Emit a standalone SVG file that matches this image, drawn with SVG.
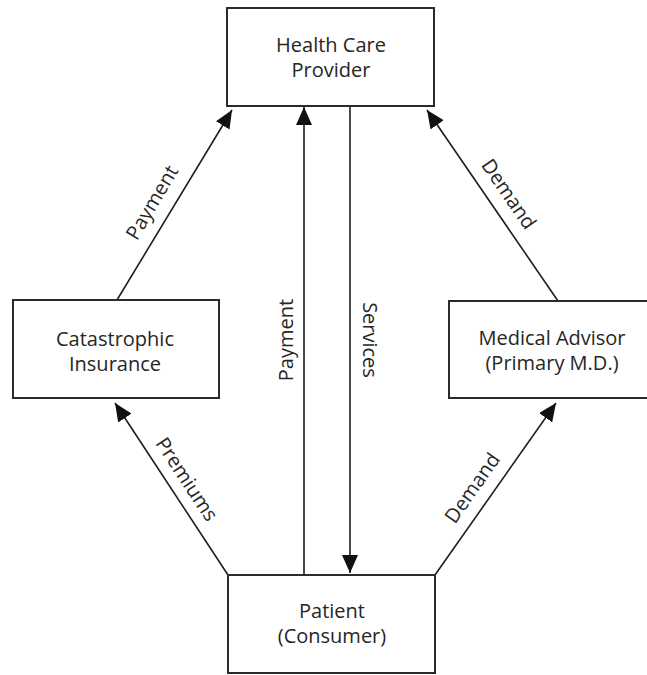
<svg xmlns="http://www.w3.org/2000/svg" width="647" height="675" viewBox="0 0 647 675">
  <style>
    .box { fill: #ffffff; stroke: #2b2b2b; stroke-width: 2; }
    .lbl { font-family: "Open Sans", "Noto Sans", "Liberation Sans", sans-serif; font-size: 20px; fill: #262626; text-anchor: middle; }
    .edge { stroke: #1e1e1e; stroke-width: 1.6; fill: none; marker-end: url(#head); }
  </style>
  <defs>
    <marker id="head" markerUnits="userSpaceOnUse" markerWidth="19" markerHeight="16" refX="18" refY="8" orient="auto">
      <path d="M0,0 L18,8 L0,16 Z" fill="#111111"/>
    </marker>
  </defs>
  <rect width="647" height="675" fill="#ffffff"/>

  <!-- connectors -->
  <g id="connectors">
    <line class="edge" x1="117" y1="300" x2="232" y2="110"/>
    <line class="edge" x1="304" y1="575" x2="304" y2="107"/>
    <line class="edge" x1="350" y1="106" x2="350" y2="573"/>
    <line class="edge" x1="558" y1="301" x2="427" y2="110"/>
    <line class="edge" x1="228" y1="575" x2="115" y2="403"/>
    <line class="edge" x1="435" y1="575" x2="556" y2="403"/>

    <text class="lbl" transform="translate(158,206) rotate(-59.3)">Payment</text>
    <text class="lbl" transform="translate(293,340) rotate(-90)">Payment</text>
    <text class="lbl" transform="translate(363,340) rotate(90)">Services</text>
    <text class="lbl" transform="translate(503,198) rotate(55.6)">Demand</text>
    <text class="lbl" transform="translate(181,483) rotate(56.7)">Premiums</text>
    <text class="lbl" transform="translate(478,492) rotate(-54.9)">Demand</text>
  </g>

  <!-- nodes -->
  <g id="provider">
    <rect class="box" x="227" y="8" width="207" height="98"/>
    <text class="lbl" x="331" y="52">Health Care</text>
    <text class="lbl" x="331" y="77">Provider</text>
  </g>
  <g id="insurance">
    <rect class="box" x="13" y="300" width="206" height="98"/>
    <text class="lbl" x="115" y="346">Catastrophic</text>
    <text class="lbl" x="115" y="371">Insurance</text>
  </g>
  <g id="advisor">
    <rect class="box" x="449" y="301" width="206" height="97"/>
    <text class="lbl" x="552" y="345">Medical Advisor</text>
    <text class="lbl" x="552" y="370">(Primary M.D.)</text>
  </g>
  <g id="patient">
    <rect class="box" x="228" y="575" width="207" height="98"/>
    <text class="lbl" x="332" y="618">Patient</text>
    <text class="lbl" x="332" y="643">(Consumer)</text>
  </g>
</svg>
